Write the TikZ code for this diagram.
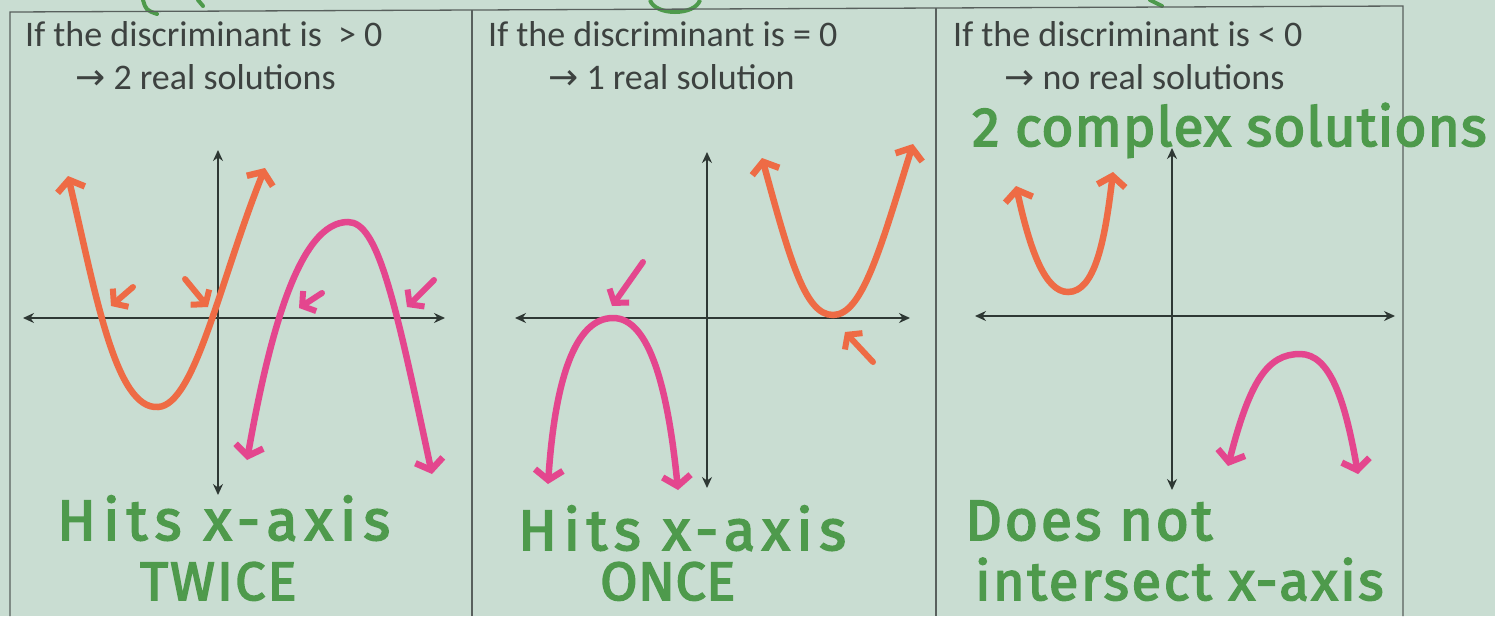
\documentclass[tikz,border=0pt]{standalone}
\usepackage{fontspec}
\setmainfont{Carlito}
\newfontfamily\handfont[FakeBold=3]{Fira Sans}
\newfontfamily\symfont{DejaVu Sans}
\usepackage{tikz}
\usetikzlibrary{arrows.meta}
\definecolor{paper}{HTML}{C9DDD2}
\definecolor{ink}{HTML}{2E3834}
\definecolor{print}{HTML}{3D4240}
\definecolor{marker}{HTML}{EE6B45}
\definecolor{pinkish}{HTML}{E4468E}
\definecolor{pen}{HTML}{4E9A4C}
\newcommand{\spaced}[2]{\addfontfeature{LetterSpace=#1}#2}

\begin{document}
\begin{tikzpicture}[
  x=1pt, y=-1pt,
  frame/.style={draw=ink!80, line width=1.3pt},
  axis/.style={draw=ink, line width=1.6pt,
               {Stealth[length=11pt,width=10pt]}-{Stealth[length=11pt,width=10pt]}},
  ends/.style={line width=6.5pt, line cap=round,
               {Straight Barb[length=10pt,width=28pt]}-{Straight Barb[length=10pt,width=28pt]}},
  curveO/.style={ends, draw=marker},
  curveM/.style={ends, draw=pinkish},
  hint/.style={line width=6pt, line cap=round, -{Straight Barb[length=9pt,width=24pt]}},
  caption/.style={anchor=base west, inner sep=0pt, text=print,
                  font=\fontsize{36}{43}\selectfont},
  note/.style={anchor=base west, inner sep=0pt, text depth=0pt, text=pen,
               font=\handfont\fontsize{57}{60}\selectfont},
  lownote/.style={note, font=\handfont\fontsize{54}{58}\selectfont}
]
  \useasboundingbox[fill=paper] (0,0) rectangle (1495,616);

  % cut-off pen marks above the table
  \draw[pen, line width=4pt, line cap=round] (143,0) .. controls (146,10) .. (157,14);
  \draw[pen, line width=4pt, line cap=round] (198,0) -- (203,6);
  \draw[pen, line width=4pt] (650,0) .. controls (655,16) and (695,16) .. (700,0);
  \draw[pen, line width=4pt, line cap=round] (1150,0) -- (1162,6);

  % table
  \draw[frame] (10,616) -- (10,12) -- (1403,6) -- (1403,616);
  \draw[frame] (472,10) -- (472,616);
  \draw[frame] (936,8) -- (936,616);

  % headings
  \node[caption] (cond1) at (25,46) {If the discriminant is \ > 0};
  \node[caption] (sol1) at (75,89) {{\symfont →} 2 real solutions};
  \node[caption] (cond2) at (488,46) {If the discriminant is = 0};
  \node[caption] (sol2) at (548,89) {{\symfont →} 1 real solution};
  \node[caption] (cond3) at (953,46) {If the discriminant is < 0};
  \node[caption] (sol3) at (1004,89) {{\symfont →} no real solutions};

  % panel 1: two crossings
  \coordinate (o1) at (218,318);
  \draw[axis] (23,318) -- (445,318);
  \draw[axis] (218,495) -- (218,150);
  \draw[curveO] (68,176) .. controls (95,290) and (115,410) .. (158,407)
                .. controls (195,405) and (220,280) .. (265,168);
  \draw[curveM] (247,460) .. controls (270,330) and (300,222) .. (348,222)
                .. controls (378,222) and (395,300) .. (432,474);
  \draw[hint, marker] (133,287) -- (111,306);
  \draw[hint, marker] (185,279) -- (208,307);
  \draw[hint, pinkish] (322,293) -- (299,308);
  \draw[hint, pinkish] (434,280) -- (407,307);

  % panel 2: touching once
  \coordinate (o2) at (707,318);
  \draw[axis] (515,318) -- (910,318);
  \draw[axis] (707,488) -- (707,152);
  \draw[curveM] (548,484) .. controls (555,380) and (575,318) .. (613,318)
                .. controls (650,318) and (668,390) .. (678,490);
  \draw[curveO] (762,158) .. controls (790,260) and (805,315) .. (833,315)
                .. controls (862,315) and (880,250) .. (913,144);
  \draw[hint, pinkish] (643,262) -- (612,306);
  \draw[hint, marker] (873,362) -- (845,332);

  % panel 3: no crossing
  \coordinate (o3) at (1172,316);
  \draw[axis] (975,316) -- (1395,316);
  \draw[axis] (1172,490) -- (1172,148);
  \draw[curveO] (1016,186) .. controls (1030,250) and (1045,292) .. (1068,292)
                .. controls (1095,292) and (1105,240) .. (1113,172);
  \draw[curveM] (1228,466) .. controls (1250,380) and (1268,354) .. (1300,354)
                .. controls (1330,354) and (1345,400) .. (1358,474);

  % pen notes
  \node[note, font=\handfont\fontsize{55}{60}\selectfont] (cplx) at (972,146)
       {\spaced{2}{2 complex solutions}};
  \node[note] (hit1) at (57,540) {\spaced{13}{Hits x-axis}};
  \node[lownote] (twice) at (140,600) {\spaced{4}{TWICE}};
  \node[note] (hit2) at (518,550) {\spaced{12}{Hits x-axis}};
  \node[lownote] (once) at (600,600) {\spaced{1}{ONCE}};
  \node[note] (notx) at (965,540) {\spaced{5}{Does not}};
  \node[lownote] (inter) at (975,600) {\spaced{5}{intersect x-axis}};
\end{tikzpicture}
\end{document}
